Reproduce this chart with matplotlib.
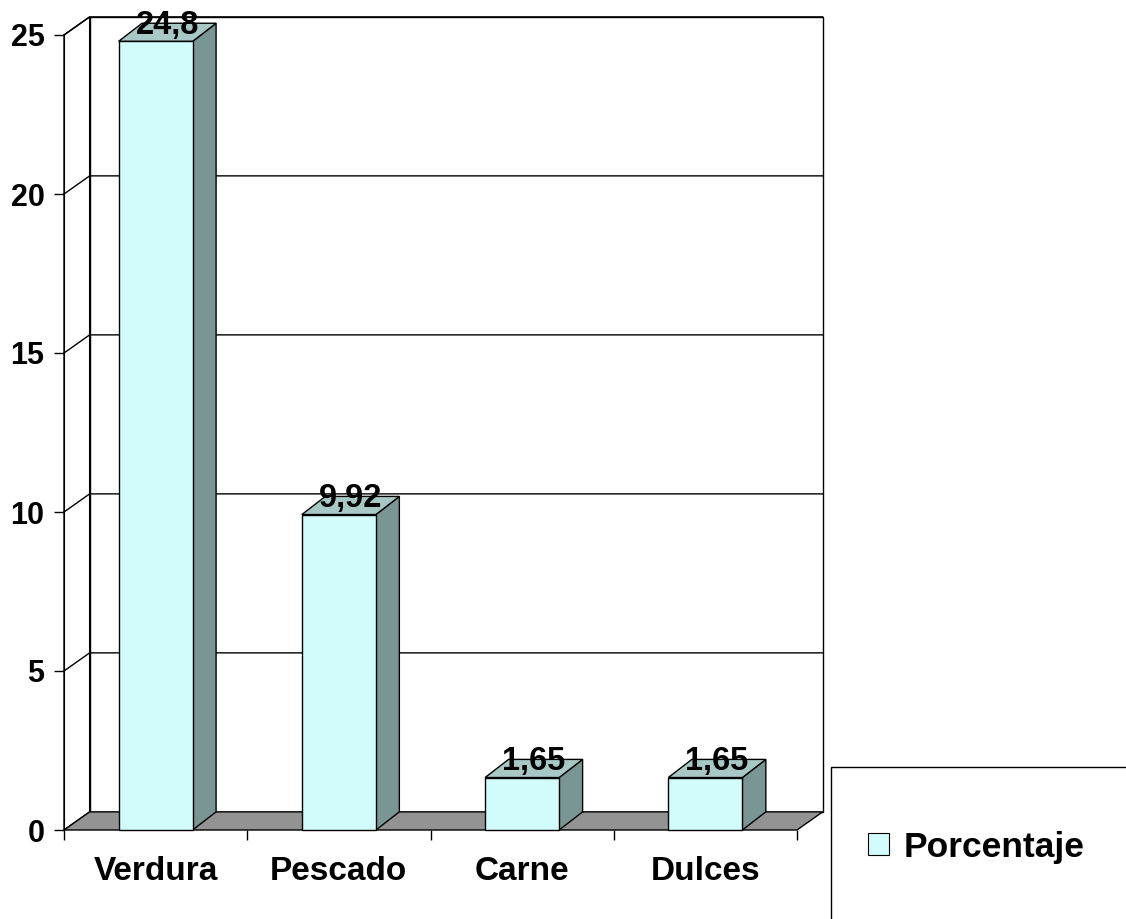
import matplotlib
matplotlib.use('Agg')
import matplotlib.pyplot as plt
from matplotlib.patches import Polygon, Rectangle

# datos del grafico
categorias = ['Verdura', 'Pescado', 'Carne', 'Dulces']
porcentaje = [24.8, 9.92, 1.65, 1.65]
yticks = [0, 5, 10, 15, 20, 25]
serie = 'Porcentaje'

plt.rcParams['font.family'] = ['Liberation Sans', 'DejaVu Sans']
plt.rcParams['font.weight'] = 'bold'

c_frente = '#D2FCFC'
c_lado = '#7A9694'
c_arriba = '#A8C8C6'
c_suelo = '#939393'

fig = plt.figure(figsize=(11.26, 9.19), dpi=100)
ax = fig.add_axes([64 / 1126, 89 / 919, 733 / 1126, 795 / 919])
ax.set_xlim(-0.5, len(categorias) - 0.5)
ax.set_ylim(0, 25)
x0, x1 = ax.get_xlim()
ymax = ax.get_ylim()[1]

# profundidad 3D en unidades de datos
dx, dy = 0.14, 0.57      # paredes
bdx, bdy = 0.128, 0.57   # barras
ancho = 0.404

# pared de fondo y pared izquierda
ax.add_patch(Rectangle((x0 + dx, dy), x1 - x0, ymax, facecolor='white',
                       edgecolor='black', lw=1, clip_on=False, zorder=1))
ax.add_patch(Polygon([(x0, 0), (x0 + dx, dy), (x0 + dx, ymax + dy), (x0, ymax)],
                     closed=True, facecolor='white', edgecolor='black', lw=1,
                     clip_on=False, zorder=1))
# lineas de division
for v in yticks[1:]:
    ax.plot([x0, x0 + dx, x1 + dx], [v, v + dy, v + dy], color='black', lw=1,
            clip_on=False, zorder=2)
# suelo
ax.add_patch(Polygon([(x0, 0), (x1, 0), (x1 + dx, dy), (x0 + dx, dy)], closed=True,
                     facecolor=c_suelo, edgecolor='black', lw=1, clip_on=False, zorder=3))

# barras 3D
for i, v in enumerate(porcentaje):
    izq, der = i - ancho / 2, i + ancho / 2
    ax.add_patch(Polygon([(der, 0), (der + bdx, bdy), (der + bdx, v + bdy), (der, v)],
                         closed=True, facecolor=c_lado, edgecolor='black', lw=1,
                         clip_on=False, zorder=4))
    ax.add_patch(Polygon([(izq, v), (der, v), (der + bdx, v + bdy), (izq + bdx, v + bdy)],
                         closed=True, facecolor=c_arriba, edgecolor='black', lw=1,
                         clip_on=False, zorder=4))
    ax.add_patch(Rectangle((izq, 0), ancho, v, facecolor=c_frente, edgecolor='black',
                           lw=1, clip_on=False, zorder=5))
    ax.text(i + bdx / 2, v + bdy / 2 - 0.05, str(v).replace('.', ','), ha='center',
            va='baseline', fontsize=23.5, fontweight='bold', zorder=6)

# ejes
for s in ['top', 'right']:
    ax.spines[s].set_visible(False)
ax.spines['left'].set_zorder(7)
ax.spines['bottom'].set_visible(False)
ax.set_facecolor('none')
ax.set_yticks(yticks)
ax.set_yticklabels([str(t) for t in yticks], fontsize=22, fontweight='bold')
ax.tick_params(axis='y', direction='out', length=7, width=1, pad=7)
ax.set_xticks([k - 0.5 for k in range(len(categorias) + 1)])
ax.set_xticklabels([])
ax.tick_params(axis='x', which='major', direction='out', length=7.5, width=1)
ax.set_xticks(range(len(categorias)), minor=True)
ax.set_xticklabels(categorias, minor=True, fontsize=24, fontweight='bold')
ax.tick_params(axis='x', which='minor', length=0, pad=19)

# leyenda
fig.patches.append(Rectangle((831 / 1126, -0.05), 0.5, 152 / 919 + 0.05,
                             transform=fig.transFigure, facecolor='white',
                             edgecolor='black', lw=1))
h = Rectangle((0, 0), 1, 1, facecolor=c_frente, edgecolor='black', lw=0.8)
fig.legend([h], [serie], loc='center left', bbox_to_anchor=(868 / 1126, 72 / 919),
           frameon=False, borderpad=0, borderaxespad=0, handlelength=0.6,
           handleheight=0.6, handletextpad=0.4,
           prop={'size': 25.5, 'weight': 'bold'})

fig.savefig('out.png', dpi=100)
